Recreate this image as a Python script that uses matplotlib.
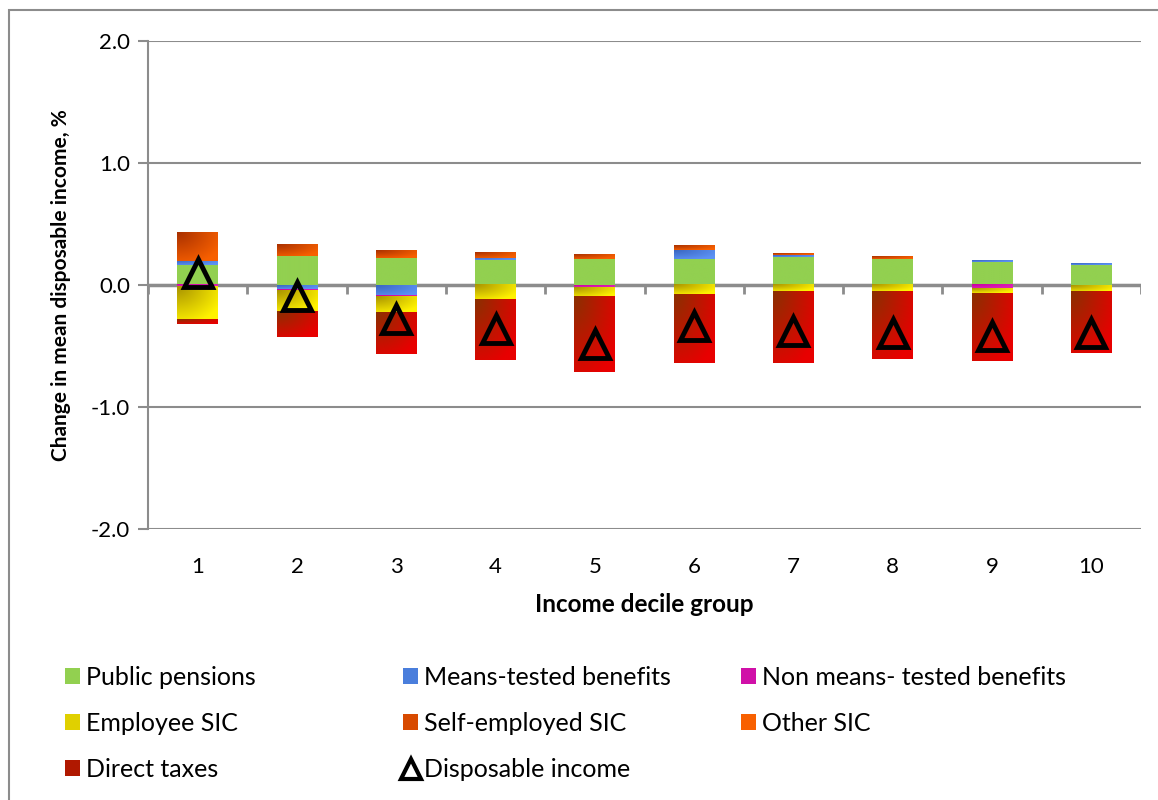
import numpy as np
import matplotlib.pyplot as plt
from matplotlib.colors import LinearSegmentedColormap
from matplotlib.patches import Rectangle, Patch
from matplotlib.lines import Line2D

plt.rcParams['font.family'] = ['Lato', 'DejaVu Sans']

deciles = ['1', '2', '3', '4', '5', '6', '7', '8', '9', '10']

# component contributions, % change in mean disposable income
public_pensions = [0.16, 0.24, 0.225, 0.205, 0.21, 0.215, 0.23, 0.21, 0.19, 0.165]
means_tested = [0.04, -0.03, -0.09, 0.02, 0.0, 0.07, 0.015, 0.0, 0.015, 0.01]
non_means_tested = [-0.012, -0.016, -0.01, 0.0, -0.016, 0.0, 0.0, 0.0, -0.025, 0.0]
employee_sic = [-0.265, -0.17, -0.123, -0.115, -0.08, -0.074, -0.05, -0.05, -0.04, -0.055]
self_employed_sic = [0.23, 0.098, 0.063, 0.043, 0.033, 0.033, 0.015, 0.019, 0.0, 0.0]
other_sic = [0.0, 0.0, 0.0, 0.0, 0.0, 0.0, 0.0, 0.0, 0.0, 0.0]
direct_taxes = [-0.04, -0.213, -0.34, -0.5, -0.62, -0.563, -0.588, -0.555, -0.557, -0.5]
disposable_income = [0.10, -0.09, -0.28, -0.36, -0.48, -0.34, -0.38, -0.39, -0.42, -0.39]

series = [
    ('Public pensions', public_pensions, ('#92D050', '#92D050')),
    ('Means-tested benefits', means_tested, ('#3A66C0', '#5C92F5')),
    ('Non means- tested benefits', non_means_tested, ('#C8009E', '#E020B8')),
    ('Employee SIC', employee_sic, ('#A89200', '#FFF200')),
    ('Self-employed SIC', self_employed_sic, ('#A83000', '#F86000')),
    ('Other SIC', other_sic, ('#FFA000', '#F01000')),
    ('Direct taxes', direct_taxes, ('#8A3000', '#E80000')),
]

fig = plt.figure(figsize=(11.58, 8), dpi=100)
ax = fig.add_axes([148 / 1158, 1 - 529 / 800, (1141 - 148) / 1158, (529 - 41) / 800])

x = np.arange(1, len(deciles) + 1)
width = 0.41
pos_base = np.zeros(len(x))
neg_base = np.zeros(len(x))

# gradient: dark from the top-left corner, bright toward bottom-right
gx, gy = np.meshgrid(np.linspace(0, 1, 60), np.linspace(0, 1, 60))
grad = np.clip(np.sqrt(gx ** 2 + gy ** 2) / 1.2, 0, 1)

for name, vals, (c0, c1) in series:
    vals = np.array(vals)
    bottoms = np.where(vals >= 0, pos_base, neg_base)
    bars = ax.bar(x, vals, width, bottom=bottoms, color='none', linewidth=0, zorder=3)
    cmap = LinearSegmentedColormap.from_list(name, [c0, c1])
    for r, v in zip(bars, vals):
        if v == 0:
            continue
        x0, y0 = r.get_x(), r.get_y()
        w, h = r.get_width(), r.get_height()
        ylo, yhi = min(y0, y0 + h), max(y0, y0 + h)
        ax.imshow(grad, cmap=cmap, extent=[x0, x0 + w, ylo, yhi], origin='upper',
                  aspect='auto', interpolation='bilinear', zorder=3)
    pos_base = pos_base + np.where(vals >= 0, vals, 0)
    neg_base = neg_base + np.where(vals < 0, vals, 0)

ax.plot(x, disposable_income, linestyle='none', marker='^', markersize=20,
        markerfacecolor='none', markeredgecolor='black', markeredgewidth=3.5, zorder=5)

ax.set_xlim(0.5, 10.5)
ax.set_ylim(-2.0, 2.0)
ax.set_yticks([-2, -1, 0, 1, 2])
ax.set_yticklabels(['-2.0', '-1.0', '0.0', '1.0', '2.0'], fontsize=16)
ax.set_xticks(x)
ax.set_xticklabels(deciles, fontsize=16)
ax.tick_params(axis='x', length=0, pad=20)
ax.tick_params(axis='y', length=7, color='#8C8C8C', width=1.5, pad=6)
ax.grid(axis='y', color='#8C8C8C', linewidth=1.5, zorder=0)
ax.set_axisbelow(True)
for s in ['top', 'right', 'bottom']:
    ax.spines[s].set_visible(False)
ax.spines['left'].set_color('#8C8C8C')
ax.spines['left'].set_linewidth(1.5)

# category axis at zero with boundary tick marks
ax.axhline(0, color='#8C8C8C', linewidth=2.5, zorder=2)
ax.vlines(np.arange(0.5, 11.0, 1.0), -0.07, 0, color='#8C8C8C', linewidth=2, zorder=2)

ax.set_ylabel('Change in mean disposable income, %', fontsize=15, fontweight='bold', labelpad=14)
ax.set_xlabel('Income decile group', fontsize=17.5, fontweight='bold', labelpad=12)

handles = {
    'Public pensions': Patch(facecolor='#92D050'),
    'Means-tested benefits': Patch(facecolor='#4A7EDC'),
    'Non means- tested benefits': Patch(facecolor='#D010A8'),
    'Employee SIC': Patch(facecolor='#E0D000'),
    'Self-employed SIC': Patch(facecolor='#D84A00'),
    'Other SIC': Patch(facecolor='#F86000'),
    'Direct taxes': Patch(facecolor='#B01800'),
    'Disposable income': Line2D([], [], linestyle='none', marker='^', markersize=14,
                                markerfacecolor='none', markeredgecolor='black',
                                markeredgewidth=3),
}
columns = [
    (['Public pensions', 'Employee SIC', 'Direct taxes'], 65),
    (['Means-tested benefits', 'Self-employed SIC', 'Disposable income'], 403),
    (['Non means- tested benefits', 'Other SIC'], 741),
]
for labels, xpix in columns:
    fig.legend([handles[k] for k in labels], labels, loc='upper left',
               bbox_to_anchor=(xpix / 1158, 1 - 666 / 800), frameon=False, fontsize=18,
               handlelength=0.6, handleheight=0.6, handletextpad=0.25,
               labelspacing=0.92, borderaxespad=0, borderpad=0)

fig.patches.append(Rectangle((9 / 1158, -0.1), 1.2, 1 - 10 / 800 + 0.1, transform=fig.transFigure,
                             fill=False, edgecolor='#8C8C8C', linewidth=1.5))

fig.savefig('out.png', dpi=100, facecolor='white')
